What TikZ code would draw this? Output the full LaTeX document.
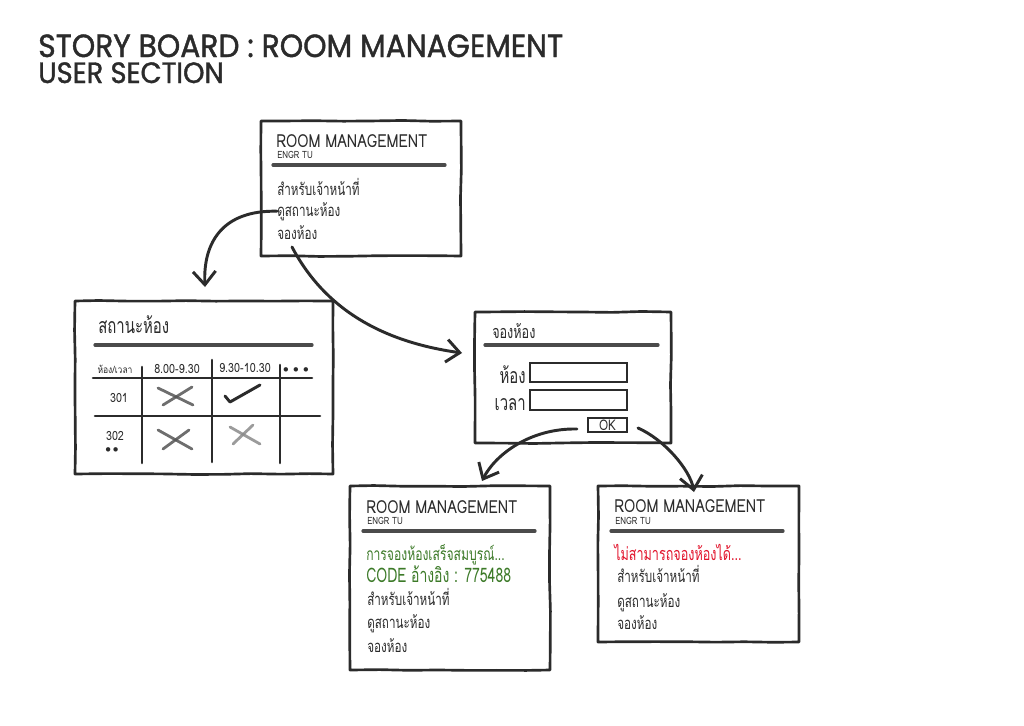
\documentclass[tikz,border=0pt]{standalone}
\usepackage{fontspec}
\usetikzlibrary{arrows.meta,fit,decorations.pathmorphing,calc}
\newfontfamily\thaifont[Script=Thai,FakeStretch=0.7]{Loma}
\newfontfamily\headfont[FakeStretch=0.8]{Loma}
\newfontfamily\cellfont[Script=Thai,FakeStretch=0.85]{Loma}
\newfontfamily\titlefont[FakeStretch=0.93,FakeBold=1.3]{Poppins}
\definecolor{ink}{HTML}{2B2B2B}
\definecolor{okgreen}{HTML}{3C7A28}
\definecolor{errred}{HTML}{E2132B}
\tikzset{
  box/.style={draw=ink, line width=2pt, inner sep=0pt, line join=round,
    decorate, decoration={random steps, segment length=22pt, amplitude=0.4pt}},
  field/.style={draw=ink, line width=1.3pt, inner sep=0pt},
  rule/.style={draw=ink!85, line width=2.4pt, line cap=round},
  grid/.style={draw=ink, line width=1.9pt, line cap=round},
  txt/.style={anchor=base west, inner sep=0pt, text=ink, font=\thaifont\fontsize{12.5}{14}\selectfont},
  head/.style={txt, text depth=0pt, font=\headfont\fontsize{13.5}{16}\selectfont},
  sub/.style={txt, text depth=0pt, font=\headfont\fontsize{7.5}{9}\selectfont},
  cell/.style={anchor=base, inner sep=0pt, text=ink, font=\cellfont\fontsize{9.5}{11}\selectfont},
  xstroke/.style={draw=ink!80, line width=2.1pt, line cap=round, opacity=0.85},
  conn/.style={draw=ink, line width=2.2pt, line cap=round,
    -{Straight Barb[length=10pt, width=17pt]}},
  ttl/.style={anchor=base west, inner sep=0pt, text=ink, text depth=0pt, font=\titlefont\fontsize{24}{28}\selectfont}
}
\begin{document}
\begin{tikzpicture}[x=0.75pt, y=-0.75pt]
\useasboundingbox (0,0) rectangle (1024,725);
\fill[white] (0,0) rectangle (1024,725);

% title
\node[ttl] (t1) at (38,57) {STORY BOARD : ROOM MANAGEMENT};
\node[ttl, font=\titlefont\fontsize{22}{26}\selectfont] (t2) at (38,83) {USER SECTION};

% ---------- top menu box ----------
\node[box, fit={(261,121) (461,256)}] (menu) {};
\node[head] (mt) at (276,147) {ROOM MANAGEMENT};
\node[sub] (ms) at (277,158) {ENGR TU};
\draw[rule] (273,165) -- (445,165);
\node[txt] (m1) at (277,195) {สำหรับเจ้าหน้าที่};
\node[txt] (m2) at (277,216) {ดูสถานะห้อง};
\node[txt] (m3) at (277,239) {จองห้อง};

% ---------- status box ----------
\node[box, fit={(75,301) (333,474)}] (status) {};
\node[txt, font=\thaifont\fontsize{16}{18}\selectfont] (st) at (98,333) {สถานะห้อง};
\draw[rule] (95,345) -- (312,345);
\node[cell, font=\cellfont\fontsize{7.5}{9}\selectfont] (h0) at (115,373) {ห้อง/เวลา};
\node[cell] (h1) at (177,373) {8.00-9.30};
\node[cell] (h2) at (245,372) {9.30-10.30};
\node[cell, font=\fontsize{8}{8}\selectfont] (h3) at (296,372) {$\bullet\,\bullet\,\bullet$};
\draw[grid] (93,378) -- (312,378);
\draw[grid] (95,416) -- (320,416);
\draw[grid] (142,367) -- (142,463);
\draw[grid] (212,360) -- (212,462);
\draw[grid] (280,365) -- (280,463);
\node[cell] (r1) at (119,402) {301};
\node[cell, text depth=0pt] (r2) at (115,440) {302};
\node[cell, font=\fontsize{8}{8}\selectfont, text height=3pt] (r3) at (112,452) {$\bullet\,\bullet$};
% marks
\draw[xstroke] (158,388) -- (193,405);
\draw[xstroke] (163,405) -- (192,387);
\draw[draw=ink, line width=2.2pt, line cap=round, line join=round] (225,396) -- (230,402) -- (260,385);
\draw[xstroke] (158,430) -- (192,449);
\draw[xstroke] (163,449) -- (189,430);
\draw[xstroke, draw=ink!55] (230,427) -- (260,444);
\draw[xstroke, draw=ink!55] (233,444) -- (253,425);

% ---------- booking box ----------
\node[box, fit={(475,312) (671,443)}] (book) {};
\node[txt, font=\thaifont\fontsize{13.5}{16}\selectfont] (bt) at (492,338) {จองห้อง};
\draw[rule] (485,345) -- (658,345);
\node[txt, anchor=base east, font=\thaifont\fontsize{16}{18}\selectfont] (lroom) at (526,383) {ห้อง};
\node[txt, anchor=base east, font=\thaifont\fontsize{16}{18}\selectfont] (ltime) at (526,410) {เวลา};
\node[field, fit={(530,363) (627,382)}] (froom) {};
\node[field, fit={(530,390) (627,410)}] (ftime) {};
\node[field, fit={(588,418) (627,432)}] (okb) {};
\node[inner sep=0pt, text=ink, font=\headfont\fontsize{11}{12}\selectfont] (okt) at (okb.center) {OK};

% ---------- success box ----------
\node[box, fit={(350,486) (550,670)}] (succ) {};
\node[head] (st1) at (366,513) {ROOM MANAGEMENT};
\node[sub] (ss1) at (367,524) {ENGR TU};
\draw[rule] (363,531) -- (535,531);
\node[txt, text=okgreen, font=\thaifont\fontsize{13}{15}\selectfont] (g1) at (366,560) {การจองห้องเสร็จสมบูรณ์...};
\node[txt, text=okgreen, font=\thaifont\fontsize{15}{17}\selectfont] (g2) at (366,582) {CODE อ้างอิง : 775488};
\node[txt] (s1) at (367,605) {สำหรับเจ้าหน้าที่};
\node[txt] (s2) at (367,628) {ดูสถานะห้อง};
\node[txt] (s3) at (367,652) {จองห้อง};

% ---------- fail box ----------
\node[box, fit={(598,486) (799,642)}] (fail) {};
\node[head] (ft1) at (614,512) {ROOM MANAGEMENT};
\node[sub] (fs1) at (615,524) {ENGR TU};
\draw[rule] (611,531) -- (783,531);
\node[txt, text=errred, font=\thaifont\fontsize{13.5}{16}\selectfont] (e1) at (614,560) {ไม่สามารถจองห้องได้...};
\node[txt] (f1) at (617,582) {สำหรับเจ้าหน้าที่};
\node[txt] (f2) at (617,607) {ดูสถานะห้อง};
\node[txt] (f3) at (617,629) {จองห้อง};

% ---------- connectors ----------
\coordinate (a1e) at (205,287);
\coordinate (a2s) at (292,247);
\coordinate (a2e) at (462,353);
\coordinate (a3s) at (577,429);
\coordinate (a3e) at (482,481);
\coordinate (a4s) at (638,428);
\coordinate (a4e) at (694,492);
\draw[conn] (m2.west) .. controls (223,210) and (203,242) .. (a1e);
\draw[conn] (a2s) .. controls (320,300) and (370,340) .. (a2e);
\draw[conn] (a3s) .. controls (530,428) and (495,455) .. (a3e);
\draw[conn] (a4s) .. controls (665,440) and (690,470) .. (a4e);
\end{tikzpicture}
\end{document}
